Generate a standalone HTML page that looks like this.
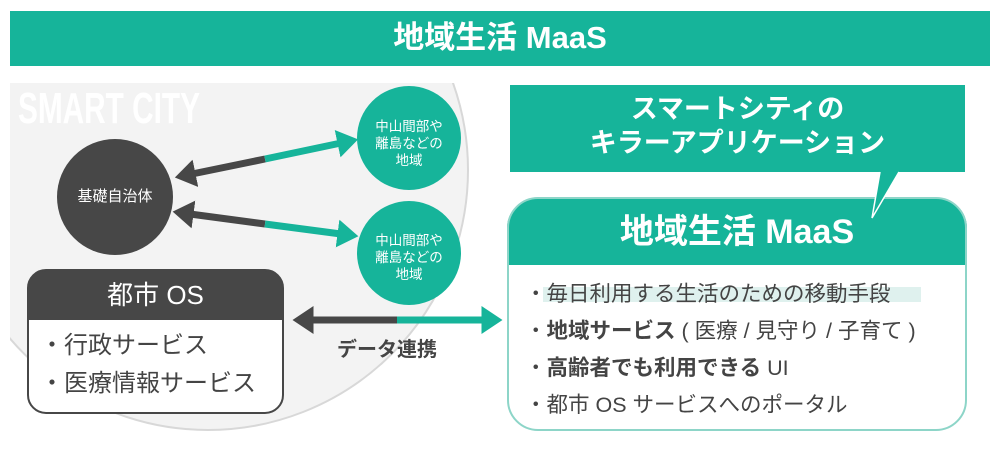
<!DOCTYPE html>
<html><head><meta charset="utf-8"><style>
body{margin:0;width:1000px;height:451px;background:#fff;position:relative;overflow:hidden;font-family:"Liberation Sans","Noto Sans CJK JP",sans-serif;}
.a{position:absolute;white-space:nowrap;}
</style></head><body>
<svg class="a" style="left:0;top:0" width="1000" height="451">
<defs><clipPath id="c"><rect x="10" y="83" width="700" height="400"/></clipPath>
<marker id="hd" markerWidth="4" markerHeight="4" refX="0.5" refY="2" orient="auto-start-reverse" markerUnits="strokeWidth"><path d="M0,0 L3,2 L0,4 z" fill="#474747"/></marker>
<marker id="ht" markerWidth="4" markerHeight="4" refX="0.5" refY="2" orient="auto" markerUnits="strokeWidth"><path d="M0,0 L3,2 L0,4 z" fill="#16b49a"/></marker>
</defs>
<rect x="10" y="11" width="980" height="55" fill="#16b49a"/>
<circle cx="208" cy="170" r="260" fill="#f3f3f3" stroke="#d8d8d8" stroke-width="2" clip-path="url(#c)"/>
<text x="18" y="123" font-family="Liberation Sans Narrow, Liberation Sans, sans-serif" font-weight="bold" font-size="44" fill="#fff" textLength="182" lengthAdjust="spacingAndGlyphs">SMART CITY</text>
<circle cx="115" cy="197" r="58" fill="#474747"/>
<circle cx="409" cy="138" r="52" fill="#16b49a"/>
<circle cx="409" cy="253" r="52" fill="#16b49a"/>
<line x1="265" y1="159" x2="192" y2="174" stroke="#474747" stroke-width="7" marker-end="url(#hd)"/>
<line x1="265" y1="159" x2="341" y2="143" stroke="#16b49a" stroke-width="7" marker-end="url(#ht)"/>
<line x1="265" y1="224" x2="190" y2="214" stroke="#474747" stroke-width="7" marker-end="url(#hd)"/>
<line x1="265" y1="224" x2="341" y2="234" stroke="#16b49a" stroke-width="7" marker-end="url(#ht)"/>
<line x1="397" y1="320" x2="310" y2="320" stroke="#474747" stroke-width="7" marker-end="url(#hd)"/>
<line x1="397" y1="320" x2="485" y2="320" stroke="#16b49a" stroke-width="7" marker-end="url(#ht)"/>
<path d="M46,270 H265 A18,18 0 0 1 283,288 V320 H28 V288 A18,18 0 0 1 46,270 Z" fill="#474747"/>
<path d="M28,320 H283 V395 A18,18 0 0 1 265,413 H46 A18,18 0 0 1 28,395 Z" fill="#fff"/>
<rect x="28" y="270" width="255" height="143" rx="18" fill="none" stroke="#474747" stroke-width="2"/>
<rect x="510" y="85" width="455" height="87" fill="#16b49a"/>
<path d="M537,198 H937 A30,30 0 0 1 967,228 V265 H507 V228 A30,30 0 0 1 537,198 Z" fill="#16b49a"/>
<rect x="508" y="198" width="458" height="232" rx="30" fill="none" stroke="#8dd5c8" stroke-width="2"/>
<path d="M880,171 L899,171 L872,218 Z" fill="#16b49a"/>
<path d="M880,172 L872,218 L899,172" fill="none" stroke="#fff" stroke-width="1.5"/>
<rect x="543" y="287" width="378" height="15" fill="#dff1ee"/>
</svg>
<div class="a" style="left:0;width:1000px;top:17px;text-align:center;color:#fff;font-size:31px;font-weight:bold;line-height:42px;">地域生活 MaaS</div>
<div class="a" style="left:57px;width:116px;top:186px;text-align:center;color:#fff;font-size:15px;line-height:22px;">基礎自治体</div>
<div class="a" style="left:357px;width:104px;top:118px;text-align:center;color:#fff;font-size:13.5px;line-height:17px;">中山間部や<br>離島などの<br>地域</div>
<div class="a" style="left:357px;width:104px;top:232px;text-align:center;color:#fff;font-size:13.5px;line-height:17px;">中山間部や<br>離島などの<br>地域</div>
<div class="a" style="left:28px;width:255px;top:278px;text-align:center;color:#fff;font-size:26px;line-height:34px;">都市 OS</div>
<div class="a" style="left:40px;top:327px;color:#444;font-size:24px;line-height:38px;">・行政サービス<br>・医療情報サービス</div>
<div class="a" style="left:337px;top:336px;color:#444;font-size:20px;font-weight:bold;line-height:28px;">データ連携</div>
<div class="a" style="left:510px;width:455px;top:92px;text-align:center;color:#fff;font-size:27px;font-weight:bold;line-height:34px;">スマートシティの<br>キラーアプリケーション</div>
<div class="a" style="left:507px;width:460px;top:211px;text-align:center;color:#fff;font-size:34px;font-weight:bold;line-height:42px;">地域生活 MaaS</div>
<div class="a" style="left:525px;top:276px;color:#444;font-size:21.5px;line-height:37px;">・毎日利用する生活のための移動手段<br>・<b>地域サービス</b> ( 医療 / 見守り / 子育て )<br>・<b>高齢者でも利用できる</b> UI<br>・都市 OS サービスへのポータル</div>
</body></html>
